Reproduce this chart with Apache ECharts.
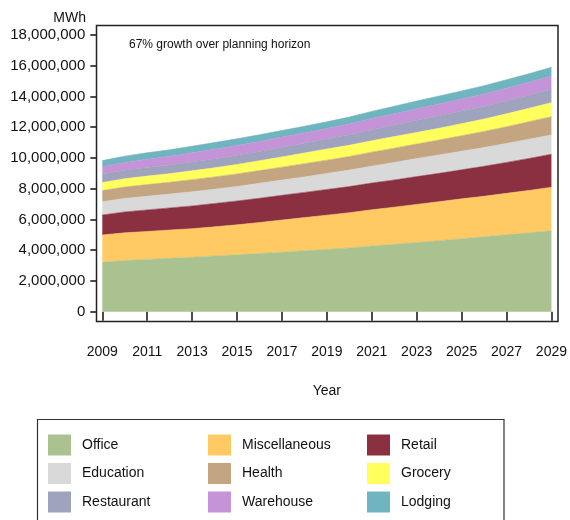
<!DOCTYPE html>
<html>
<head>
<meta charset="utf-8">
<script src="https://cdn.jsdelivr.net/npm/echarts@6/dist/echarts.min.js"></script>
<style>
html,body{margin:0;padding:0;background:#fff;}
#chart{width:570px;height:520px;}
</style>
</head>
<body>
<div id="chart"></div>
<script>
const years = ['2009','2010','2011','2012','2013','2014','2015','2016','2017','2018','2019','2020','2021','2022','2023','2024','2025','2026','2027','2028','2029'];
const yTicks = [0, 2000000, 4000000, 6000000, 8000000, 10000000, 12000000, 14000000, 16000000, 18000000];

const office = [3210000,3330000,3400000,3470000,3540000,3630000,3700000,3780000,3870000,3960000,4050000,4150000,4270000,4380000,4500000,4620000,4750000,4870000,5000000,5130000,5270000];
const miscellaneous = [1780000,1800000,1820000,1840000,1860000,1890000,1950000,2020000,2090000,2160000,2230000,2290000,2360000,2420000,2480000,2540000,2590000,2640000,2700000,2760000,2820000];
const retail = [1300000,1360000,1400000,1440000,1480000,1520000,1550000,1580000,1610000,1640000,1670000,1700000,1740000,1770000,1810000,1840000,1890000,1950000,2010000,2080000,2150000];
const education = [870000,880000,890000,900000,920000,930000,950000,970000,990000,1010000,1040000,1070000,1100000,1140000,1170000,1200000,1210000,1220000,1230000,1250000,1260000];
const health = [720000,740000,760000,770000,790000,800000,810000,830000,840000,860000,870000,890000,910000,930000,950000,970000,1010000,1050000,1090000,1140000,1190000];
const grocery = [520000,540000,550000,560000,580000,590000,620000,640000,670000,690000,720000,730000,740000,750000,750000,760000,780000,800000,840000,870000,910000];
const restaurant = [550000,550000,560000,560000,570000,570000,590000,600000,620000,630000,650000,680000,720000,750000,790000,820000,820000,820000,840000,850000,870000];
const warehouse = [480000,510000,540000,570000,600000,630000,640000,650000,670000,680000,690000,700000,720000,730000,750000,760000,780000,810000,830000,850000,870000];
const lodging = [400000,410000,420000,420000,430000,440000,440000,440000,430000,430000,430000,450000,470000,490000,510000,520000,530000,540000,550000,550000,560000];

const seriesNames = ['Office','Miscellaneous','Retail','Education','Health','Grocery','Restaurant','Warehouse','Lodging'];
const seriesData = [office, miscellaneous, retail, education, health, grocery, restaurant, warehouse, lodging];
const colors = ['#AAC290','#FFCA64','#8B3040','#D9D9D9','#C4A582','#FFFF5E','#9FA3BD','#C593D8','#6EB5C0'];

const FONT = '"Liberation Sans", Arial, sans-serif';
const chart = echarts.init(document.getElementById('chart'), null, {renderer:'canvas'});

const series = seriesNames.map((n, i) => ({
  name: n,
  type: 'line',
  stack: 'total',
  data: seriesData[i],
  symbol: 'none',
  lineStyle: {width: 0.6, color: colors[i]},
  itemStyle: {color: colors[i]},
  areaStyle: {color: colors[i], opacity: 1},
  emphasis: {disabled: true},
  z: 3
}));

function legendCol(names, left) {
  return {
    data: names.map(n => ({name: n, icon: 'rect'})),
    orient: 'vertical',
    left: left,
    top: 434.5,
    padding: 0,
    itemWidth: 23,
    itemHeight: 21,
    itemGap: 7.5,
    selectedMode: false,
    textStyle: {fontFamily: FONT, fontSize: 14, color: '#111', padding: [8,0,0,6]}
  };
}

chart.setOption({
  animation: false,
  color: colors,
  grid: {left: 102.3, right: 16.7, top: 35, bottom: 208.3, containLabel: false},
  xAxis: {
    type: 'category',
    data: years,
    boundaryGap: false,
    offset: 10,
    axisLine: {show: false},
    axisTick: {show: true, interval: 1, length: 9, lineStyle: {color: '#111', width: 1.5}},
    axisLabel: {interval: 1, margin: 23, fontFamily: FONT, fontSize: 14, color: '#111'},
    name: 'Year',
    nameLocation: 'middle',
    nameGap: 62,
    nameTextStyle: {fontFamily: FONT, fontSize: 14, color: '#111'},
    splitLine: {show: false}
  },
  yAxis: {
    type: 'value',
    min: yTicks[0],
    max: yTicks[yTicks.length - 1],
    interval: yTicks[1] - yTicks[0],
    offset: 6,
    axisLine: {show: false},
    axisTick: {show: true, length: 6, lineStyle: {color: '#111', width: 1.5}},
    axisLabel: {margin: 11, fontFamily: FONT, fontSize: 15, color: '#111',
      formatter: v => v.toLocaleString('en-US')},
    splitLine: {show: false}
  },
  legend: [
    legendCol(['Office','Education','Restaurant'], 48),
    legendCol(['Miscellaneous','Health','Warehouse'], 208),
    legendCol(['Retail','Grocery','Lodging'], 367)
  ],
  graphic: [
    {type: 'rect', shape: {x: 96.5, y: 25.5, width: 461.5, height: 296}, style: {fill: 'none', stroke: '#222', lineWidth: 1.5}, z: 10, silent: true},
    {type: 'rect', shape: {x: 37.5, y: 419.5, width: 466.5, height: 120}, style: {fill: 'none', stroke: '#333', lineWidth: 1.2}, z: 10, silent: true},
    {type: 'text', right: 570 - 86, top: 11, style: {text: 'MWh', font: '14px ' + FONT, fill: '#111', textAlign: 'right'}, silent: true},
    {type: 'text', left: 129, top: 39, style: {text: '67% growth over planning horizon', font: '12px ' + FONT, fill: '#111'}, silent: true}
  ],
  series: series
});
</script>
</body>
</html>
